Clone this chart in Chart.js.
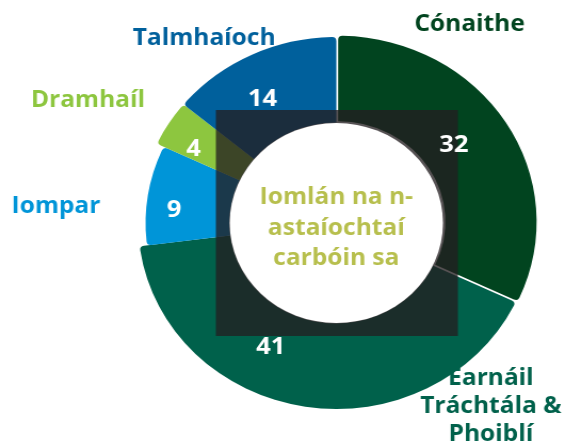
<!DOCTYPE html>
<html>
<head>
<meta charset="utf-8">
<script src="https://cdn.jsdelivr.net/npm/chart.js@4.4.1/dist/chart.umd.min.js"></script>
<style>
  html, body { margin: 0; padding: 0; background: #fff; overflow: hidden; }
  #wrap { width: 531px; height: 441px; transform: scaleX(1.066); transform-origin: 0 0; }
</style>
</head>
<body>
<div id="wrap"><canvas id="chart" width="531" height="441"></canvas></div>
<script>
// sector shares of carbon emissions (%)
const sectors = ["Cónaithe", "Earnáil Tráchtála & Phoiblí", "Iompar", "Dramhaíl", "Talmhaíoch"];
const shares = [32, 41, 9, 4, 14];
const sectorLines = [["Cónaithe"], ["Earnáil", "Tráchtála &", "Phoiblí"], ["Iompar"], ["Dramhaíl"], ["Talmhaíoch"]];
const centreTitle = ["Iomlán na n-", "astaíochtaí", "carbóin sa"];

const fills = ["#01441f", "#00614b", "#0095d8", "#8dc63f", "#00609c"];
const sliceRadius = [186, 186, 179, 186, 186];
const FONT = "'Open Sans', 'DejaVu Sans', sans-serif";

// where each name sits, relative to the centre of the ring
const nameSpots = [
  { dx: 125, dy: -192 },
  { dx: 145, dy: 162 },
  { dx: -263, dy: -10 },
  { dx: -233, dy: -116 },
  { dx: -124, dy: -178 }
];
// value label: fraction along the slice's sweep, distance from centre
const valueSpots = [[0.47, 136], [0.62, 137], [0.40, 153], [0.31, 154], [0.43, 144]];

const ringPlugin = {
  id: "ringDecor",
  beforeDatasetsDraw(chart) {
    chart.getDatasetMeta(0).data.forEach((arc, i) => {
      arc.outerRadius = sliceRadius[i];
    });
  },
  afterDatasetsDraw(chart) {
    const ctx = chart.ctx;
    const arcs = chart.getDatasetMeta(0).data;
    const cx = arcs[0].x, cy = arcs[0].y;

    ctx.save();
    // dark panel over the middle of the ring
    ctx.fillStyle = "rgba(35,30,33,0.77)";
    ctx.fillRect(cx - 113, cy - 113, 227, 226);
    ctx.fillStyle = "#ffffff";
    ctx.beginPath();
    ctx.arc(cx, cy, 100, 0, Math.PI * 2);
    ctx.fill();

    ctx.textAlign = "center";
    ctx.textBaseline = "alphabetic";

    ctx.fillStyle = "#b7bf4d";
    ctx.font = "bold 23px " + FONT;
    centreTitle.forEach((line, k) => {
      ctx.fillText(line, cx, cy - 19 + k * 30.5);
    });

    // values on the slices
    ctx.fillStyle = "#ffffff";
    ctx.font = "bold 24px " + FONT;
    arcs.forEach((arc, i) => {
      const [f, r] = valueSpots[i];
      const a = arc.startAngle + (arc.endAngle - arc.startAngle) * f;
      ctx.fillText(String(shares[i]), cx + Math.cos(a) * r, cy + Math.sin(a) * r + 9);
    });

    // sector names
    ctx.font = "bold 23px " + FONT;
    sectorLines.forEach((lines, i) => {
      ctx.fillStyle = fills[i];
      lines.forEach((line, k) => {
        ctx.fillText(line, cx + nameSpots[i].dx, cy + nameSpots[i].dy + k * 28);
      });
    });
    ctx.restore();
  }
};

new Chart(document.getElementById("chart"), {
  type: "doughnut",
  data: {
    labels: sectors,
    datasets: [{
      data: shares,
      backgroundColor: fills,
      borderWidth: 0,
      borderRadius: { outerStart: 4, outerEnd: 4, innerStart: 0, innerEnd: 0 },
      offset: [8, 0, 0, 0, 0]
    }]
  },
  options: {
    responsive: false,
    animation: false,
    radius: 186,
    cutout: "54%",
    layout: { padding: { left: 100, right: 0, top: 5, bottom: 0 } },
    plugins: { legend: { display: false }, tooltip: { enabled: false } }
  },
  plugins: [ringPlugin]
});
</script>
</body>
</html>
